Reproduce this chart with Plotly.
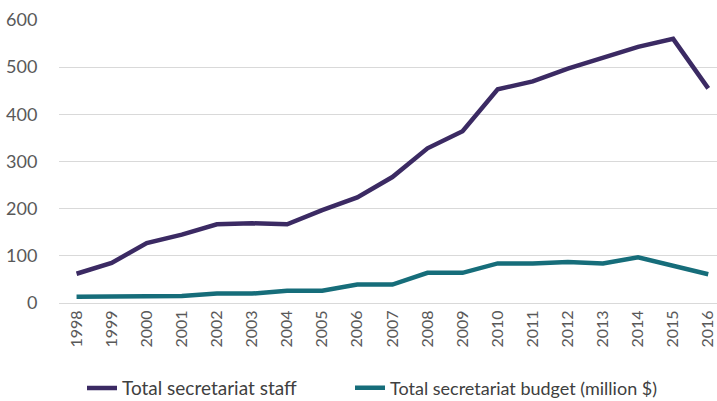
import plotly.graph_objects as go

years = [str(y) for y in range(1998, 2017)]
staff = [62, 85, 127, 145, 167, 169, 167, 197, 224, 267, 328, 364, 453, 470, 497, 520, 543, 560, 455]
budget = [13, 13, 15, 15, 20, 20, 26, 26, 39, 39, 64, 64, 84, 84, 87, 84, 97, 79, 61]
y_ticks = [0, 100, 200, 300, 400, 500, 600]

FONT = "Lato"
fig = go.Figure()
fig.add_trace(go.Scatter(x=years, y=staff, mode="lines", name="Total secretariat staff",
                         line=dict(color="#3b2a63", width=4.5), legend="legend"))
fig.add_trace(go.Scatter(x=years, y=budget, mode="lines", name="Total secretariat budget (million $)",
                         line=dict(color="#166d7a", width=4.5), legend="legend2"))

leg_common = dict(orientation="h", xref="container", yref="container", y=0.032,
                  xanchor="left", yanchor="middle", bgcolor="rgba(0,0,0,0)")
fig.update_layout(
    width=717, height=401,
    margin=dict(l=59, r=0, t=20, b=98),
    paper_bgcolor="white", plot_bgcolor="white",
    font=dict(family=FONT, color="#595959", size=17),
    showlegend=True,
    legend=dict(x=82 / 717, font=dict(size=19, color="#404040"), **leg_common),
    legend2=dict(x=350 / 717, font=dict(size=18, color="#404040"), **leg_common),
)
fig.update_xaxes(type="category", range=[-0.5, 18.25], tickangle=-90, showgrid=False,
                 showline=True, linecolor="#d9d9d9", linewidth=1, ticks="", automargin=False,
                 tickfont=dict(size=16, color="#595959"))
fig.update_yaxes(range=[0, 600], tickvals=y_ticks, showgrid=True, gridcolor="#d9d9d9", gridwidth=1,
                 zeroline=False, showline=False, ticks="outside", ticklen=17, tickcolor="rgba(0,0,0,0)",
                 automargin=False, tickfont=dict(size=18, color="#595959"))

fig.write_html("out.html", config={"displayModeBar": False},
               post_script="document.body.style.margin='0';document.body.style.overflow='hidden';")
